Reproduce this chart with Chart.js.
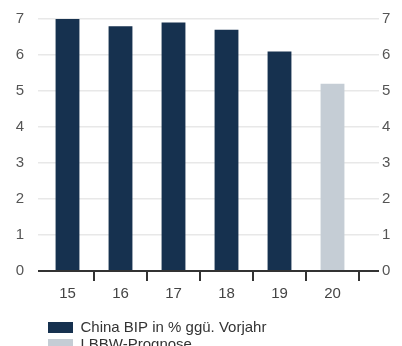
<!DOCTYPE html>
<html>
<head>
<meta charset="utf-8">
<script src="https://cdn.jsdelivr.net/npm/chart.js@4.4.1/dist/chart.umd.min.js"></script>
<style>
  html, body { margin: 0; padding: 0; background: #fff; overflow: hidden; }
  #wrap { width: 402px; height: 352px; }
</style>
</head>
<body>
<div id="wrap"><canvas id="chartCanvas" width="402" height="352"></canvas></div>
<script>
const categories = ["15", "16", "17", "18", "19", "20"];
const gdpValues = [7.0, 6.8, 6.9, 6.7, 6.1, null];
const forecastValues = [null, null, null, null, null, 5.2];
const yTicks = [0, 1, 2, 3, 4, 5, 6, 7];

const NAVY = "#16314f";
const GREY = "#c5cdd5";
const FONT = "'Liberation Sans', Arial, sans-serif";

// Gitterfarbe: Nulllinie dunkel, Rest hellgrau
const gridColor = (ctx) => (ctx.tick && ctx.tick.value === 0 ? "#333333" : "#e8e8e8");
const gridWidth = (ctx) => (ctx.tick && ctx.tick.value === 0 ? 2 : 1.5);

// feste Achsenbreiten, kein Extra-Abstand oben
const fixAxis = (width) => (axis) => {
  axis.width = width;
  axis.paddingTop = 0;
  axis.paddingBottom = 0;
};

// Legende etwas verschieben (nach rechts / unten)
const legendShift = {
  id: "legendShift",
  afterLayout(chart) {
    const lg = chart.legend;
    lg.left += 5;
    lg.right += 5;
    lg.top += 11;
    lg.bottom += 11;
  },
};

const chart = new Chart(document.getElementById("chartCanvas").getContext("2d"), {
  type: "bar",
  data: {
    labels: categories,
    datasets: [
      {
        label: "China BIP in % ggü. Vorjahr",
        data: gdpValues,
        backgroundColor: NAVY,
        categoryPercentage: 0.45,
        barPercentage: 1,
      },
      {
        label: "LBBW-Prognose",
        data: forecastValues,
        backgroundColor: GREY,
        categoryPercentage: 0.45,
        barPercentage: 1,
      },
    ],
  },
  options: {
    responsive: false,
    animation: false,
    layout: { padding: { left: 0, right: 0, top: 19, bottom: 1 } },
    plugins: {
      tooltip: { enabled: false },
      legend: {
        position: "bottom",
        align: "start",
        fullSize: false,
        labels: {
          boxWidth: 25,
          boxHeight: 11,
          padding: 2,
          color: "#333333",
          font: { family: FONT, size: 15 },
        },
      },
    },
    scales: {
      x: {
        stacked: true,
        offset: true,
        border: { display: false },
        grid: {
          offset: true,
          drawOnChartArea: false,
          drawTicks: true,
          tickLength: 10,
          lineWidth: 2,
          color: (ctx) => (ctx.index === 0 ? "rgba(0,0,0,0)" : "#333333"),
        },
        ticks: { color: "#444444", padding: 4, font: { family: FONT, size: 15 } },
      },
      y: {
        position: "left",
        min: 0,
        max: 7,
        afterBuildTicks: (axis) => { axis.ticks = yTicks.map((v) => ({ value: v })); },
        afterFit: fixAxis(41),
        border: { display: false },
        grid: { color: gridColor, lineWidth: gridWidth, tickLength: 3 },
        ticks: { color: "#555555", padding: 14, font: { family: FONT, size: 15 } },
      },
      y2: {
        position: "right",
        min: 0,
        max: 7,
        afterBuildTicks: (axis) => { axis.ticks = yTicks.map((v) => ({ value: v })); },
        afterFit: fixAxis(43),
        border: { display: false },
        grid: { drawOnChartArea: false, color: gridColor, lineWidth: gridWidth, tickLength: 20 },
        ticks: { color: "#555555", padding: 3, font: { family: FONT, size: 15 } },
      },
    },
  },
  plugins: [legendShift],
});
</script>
</body>
</html>
